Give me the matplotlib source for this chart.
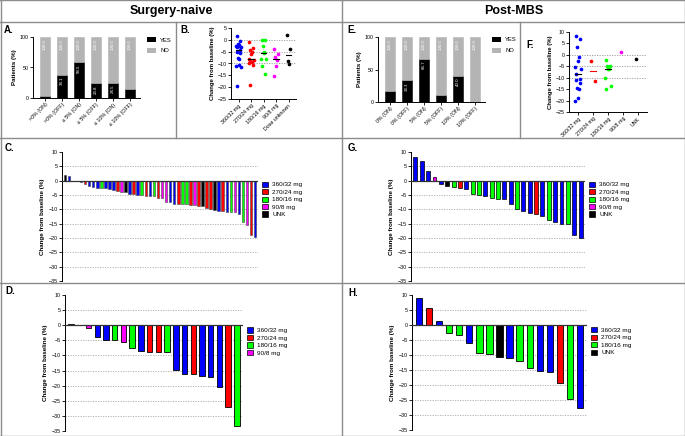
import matplotlib
matplotlib.use('Agg')
import matplotlib.pyplot as plt
from matplotlib.patches import Patch
from matplotlib.lines import Line2D
import numpy as np

plt.rcParams['font.family'] = ['Liberation Sans', 'DejaVu Sans']

dose_names = ['360/32 mg', '270/24 mg', '180/16 mg', '90/8 mg', 'UNK']
dose_colors = {'360/32 mg': '#0000ff', '270/24 mg': '#ff0000', '180/16 mg': '#00ff00',
               '90/8 mg': '#ff00ff', 'UNK': '#000000'}

# A / E - patients reaching weight-loss thresholds
labels_a = ['>0% (ON)', '>0% (OFF)', '\u2265 5% (ON)', '\u2265 5% (OFF)', '\u2265 10% (ON)', '\u2265 10% (OFF)']
yes_a = [3.6, 38.1, 58.5, 23.8, 24.5, 14.3]
labels_e = ['0% (ON)', '0% (OFF)', '5% (ON)', '5% (OFF)', '10% (ON)', '10% (OFF)']
yes_e = [16.7, 33.3, 66.7, 11.1, 40.0, 0.0]

# B - surgery-naive change from baseline by dose
b_360 = [1.5, -0.5, -1.8, -2.2, -2.5, -2.7, -3.0, -3.2, -4.5, -5.0, -5.5, -7.5, -8.0, -10.5, -11.0, -11.5, -19.5]
b_270 = [-1.0, -3.5, -4.5, -5.2, -6.0, -8.0, -8.5, -9.0, -9.5, -10.0, -10.5, -19.0]
b_180 = [0.0, -0.2, -2.5, -5.0, -5.5, -8.0, -8.2, -11.0, -14.5]
b_90 = [-4.0, -6.0, -7.3, -8.5, -11.0, -15.3]
b_unk = [2.0, -4.0, -9.0, -10.3]
b_cats = ['360/32 mg', '270/24 mg', '180/16 mg', '90/8 mg', 'Dose unknown']

# D - surgery-naive subgroup waterfall
d_vals = [0.5, 0.2, -1.0, -4.0, -4.8, -5.0, -5.5, -7.6, -8.6, -8.7, -8.7, -9.0,
          -14.8, -16.0, -16.0, -16.7, -17.0, -20.3, -27.2, -33.5]
d_dose = ['270/24 mg', '270/24 mg', '90/8 mg', '360/32 mg', '360/32 mg', '180/16 mg', '90/8 mg', '180/16 mg',
          '360/32 mg', '270/24 mg', '270/24 mg', '180/16 mg', '360/32 mg', '360/32 mg', '270/24 mg',
          '360/32 mg', '360/32 mg', '360/32 mg', '270/24 mg', '180/16 mg']

# G - post-MBS waterfall
g_vals = [8.3, 6.8, 3.4, 1.3, -1.0, -1.8, -2.2, -2.7, -2.8, -4.8, -4.9, -5.4, -6.0, -6.3,
          -6.3, -8.2, -10.0, -10.5, -11.2, -11.5, -12.3, -13.8, -14.3, -15.0, -15.0, -19.0, -20.0]
g_dose = ['360/32 mg', '360/32 mg', '360/32 mg', '90/8 mg', '360/32 mg', 'UNK', '180/16 mg', '270/24 mg',
          '360/32 mg', '180/16 mg', '180/16 mg', '360/32 mg', '180/16 mg', '180/16 mg', '360/32 mg',
          '360/32 mg', '180/16 mg', '360/32 mg', '360/32 mg', '270/24 mg', '360/32 mg', '180/16 mg',
          '360/32 mg', '360/32 mg', '180/16 mg', '360/32 mg', '360/32 mg']

# H - post-MBS subgroup waterfall
h_vals = [9.0, 5.8, 1.3, -2.7, -3.4, -6.0, -9.2, -9.6, -10.8, -11.0, -12.0, -14.3, -15.5, -15.8, -19.3, -24.8, -27.6]
h_dose = ['360/32 mg', '270/24 mg', '360/32 mg', '180/16 mg', '180/16 mg', '360/32 mg', '180/16 mg',
          '180/16 mg', 'UNK', '360/32 mg', '180/16 mg', '180/16 mg', '360/32 mg', '360/32 mg',
          '270/24 mg', '180/16 mg', '360/32 mg']

W, H = 685, 436
fig = plt.figure(figsize=(6.85, 4.36), dpi=100)


def px_axes(x0, x1, ytop, ybot):
    return fig.add_axes([x0 / W, 1 - ybot / H, (x1 - x0) / W, (ybot - ytop) / H])


def style_ticks(ax, size=3.8):
    ax.tick_params(axis='both', labelsize=size, length=2, width=0.6, pad=1)
    for s in ['top', 'right']:
        ax.spines[s].set_visible(False)
    for s in ['left', 'bottom']:
        ax.spines[s].set_linewidth(0.7)


def stacked(ax, labels, yes):
    x = np.arange(len(labels))
    no = [100 - v for v in yes]
    ax.bar(x, yes, width=0.6, color='black', edgecolor='black', linewidth=0.4)
    ax.bar(x, no, bottom=yes, width=0.6, color='#b4b4b4', edgecolor='#b4b4b4', linewidth=0.4)
    for xi, v in zip(x, yes):
        ax.text(xi, 97, '100.0', rotation=90, ha='center', va='top', fontsize=3.2, color='white')
        if v >= 20:
            ax.text(xi, v - 3, f'{v:.1f}', rotation=90, ha='center', va='top', fontsize=3.2, color='white')
    ax.set_ylim(0, 100)
    ax.set_xlim(-0.7, len(labels) - 0.4)
    ax.set_yticks([0, 50, 100])
    ax.set_xticks(x)
    ax.set_xticklabels(labels, rotation=45, ha='right', rotation_mode='anchor')
    ax.set_ylabel('Patients (%)', fontsize=4.5, fontweight='bold', labelpad=2)
    style_ticks(ax)
    ax.legend(handles=[Patch(facecolor='black', label='YES'), Patch(facecolor='#b4b4b4', label='NO')],
              loc='upper left', bbox_to_anchor=(1.02, 1.08), frameon=False, fontsize=4.2,
              handlelength=1.4, handleheight=0.9, labelspacing=0.9)


def strip(ax, groups, cats, ylim, colors):
    offs = [-0.15, 0.15, -0.07, 0.07, 0.0, -0.2, 0.2, -0.11, 0.11]
    for i, (vals, c) in enumerate(zip(groups, colors)):
        xs = [i + offs[j % len(offs)] for j in range(len(vals))]
        ax.scatter(xs, vals, s=7, color=c, zorder=3, linewidths=0)
        if len(vals) > 1:
            med = np.median(vals)
            ax.plot([i - 0.22, i + 0.22], [med, med], color='black' if c != '#ff0000' or len(vals) > 2 else c,
                    lw=0.8, zorder=4)
    for y in [0, -5, -10]:
        ax.axhline(y, color='#999999', lw=0.6, ls=(0, (1.5, 1.5)), zorder=1)
    ax.set_ylim(*ylim)
    ax.set_xlim(-0.6, len(cats) - 0.4)
    ax.set_yticks(range(ylim[0], ylim[1] + 1, 5))
    ax.set_xticks(range(len(cats)))
    ax.set_xticklabels(cats, rotation=45, ha='right', rotation_mode='anchor')
    ax.set_ylabel('Change from baseline (%)', fontsize=4.3, fontweight='bold', labelpad=2)
    style_ticks(ax)


def waterfall(ax, vals, doses, width, edge, lw, legend_doses, leg_y):
    x = np.arange(len(vals))
    ax.bar(x, vals, width=width, color=[dose_colors[d] for d in doses], edgecolor=edge, linewidth=lw, zorder=3)
    ax.set_xlim(-0.7, len(vals) - 0.3)
    ax.set_ylim(-35, 10)
    ax.set_yticks(range(-35, 11, 5))
    for y in range(-30, 10, 5):
        if y != 0:
            ax.axhline(y, color='#aaaaaa', lw=0.6, ls=(0, (1.5, 1.5)), zorder=1)
    ax.axhline(0, color='#333333', lw=0.9, zorder=4)
    ax.set_xticks([])
    ax.spines['bottom'].set_visible(False)
    ax.set_ylabel('Change from baseline (%)', fontsize=4.5, fontweight='bold', labelpad=3)
    style_ticks(ax)
    ax.tick_params(axis='x', length=0)
    handles = [Patch(facecolor=dose_colors[d], edgecolor='black', linewidth=0.5, label=d) for d in legend_doses]
    ax.legend(handles=handles, loc='upper left', bbox_to_anchor=(1.0, leg_y), frameon=False, fontsize=4.6,
              handlelength=1.0, handleheight=0.9, labelspacing=0.25, handletextpad=0.6, borderaxespad=0.2)


# panel A
ax_a = px_axes(33, 140, 37, 98)
stacked(ax_a, labels_a, yes_a)

# panel B
ax_b = px_axes(231, 296, 28, 99)
strip(ax_b, [b_360, b_270, b_180, b_90, b_unk], b_cats, (-25, 5),
      [dose_colors[d] for d in dose_names])

# panel E
ax_e = px_axes(378, 485, 37, 102)
stacked(ax_e, labels_e, yes_e)

# panel F (same patients as G, grouped by dose)
f_groups = [[v for v, d in zip(g_vals, g_dose) if d == name] for name in dose_names]
ax_f = px_axes(569, 647, 32, 112)
strip(ax_f, f_groups, dose_names, (-25, 10), [dose_colors[d] for d in dose_names])

# panel C (B patients sorted)
c_pairs = sorted([(v, d) for grp, d in zip([b_360, b_270, b_180, b_90, b_unk], dose_names) for v in grp],
                 key=lambda p: -p[0])
ax_c = px_axes(62, 258, 152, 281)
waterfall(ax_c, [p[0] for p in c_pairs], [p[1] for p in c_pairs], 0.65, '#444444', 0.4, dose_names, 0.8)

# panel G
ax_g = px_axes(411, 585, 152, 281)
waterfall(ax_g, g_vals, g_dose, 0.62, 'black', 0.5, dose_names, 0.8)

# panel D
ax_d = px_axes(65, 243, 295, 431)
waterfall(ax_d, d_vals, d_dose, 0.62, 'black', 0.6, dose_names[:4], 0.79)

# panel H
ax_h = px_axes(412, 587, 295, 430)
waterfall(ax_h, h_vals, h_dose, 0.62, 'black', 0.6, ['360/32 mg', '270/24 mg', '180/16 mg', 'UNK'], 0.79)

# frame lines and headers
def hline(y, x0, x1):
    fig.add_artist(Line2D([x0 / W, x1 / W], [1 - y / H, 1 - y / H], color='#8c8c8c', lw=1.0))


def vline(x, y0, y1):
    fig.add_artist(Line2D([x / W, x / W], [1 - y0 / H, 1 - y1 / H], color='#8c8c8c', lw=1.0))


hline(0.5, 0, W)
hline(22, 0, W)
hline(138, 0, W)
hline(283, 0, W)
hline(435.5, 0, W)
vline(0.5, 0, H)
vline(684.5, 0, H)
vline(342, 0, H)
vline(176, 22, 138)
vline(520, 22, 138)

fig.text(171 / W, 1 - 11 / H, 'Surgery-naive', ha='center', va='center', fontsize=9, fontweight='bold')
fig.text(514 / W, 1 - 11 / H, 'Post-MBS', ha='center', va='center', fontsize=9, fontweight='bold')
for lab, x, y in [('A.', 4, 30), ('B.', 180, 30), ('E.', 347, 30), ('F.', 526, 45),
                  ('C.', 5, 148), ('G.', 348, 148), ('D.', 5, 291), ('H.', 348, 293)]:
    fig.text(x / W, 1 - y / H, lab, ha='left', va='center', fontsize=7, fontweight='bold')

fig.savefig('out.png', dpi=100)
